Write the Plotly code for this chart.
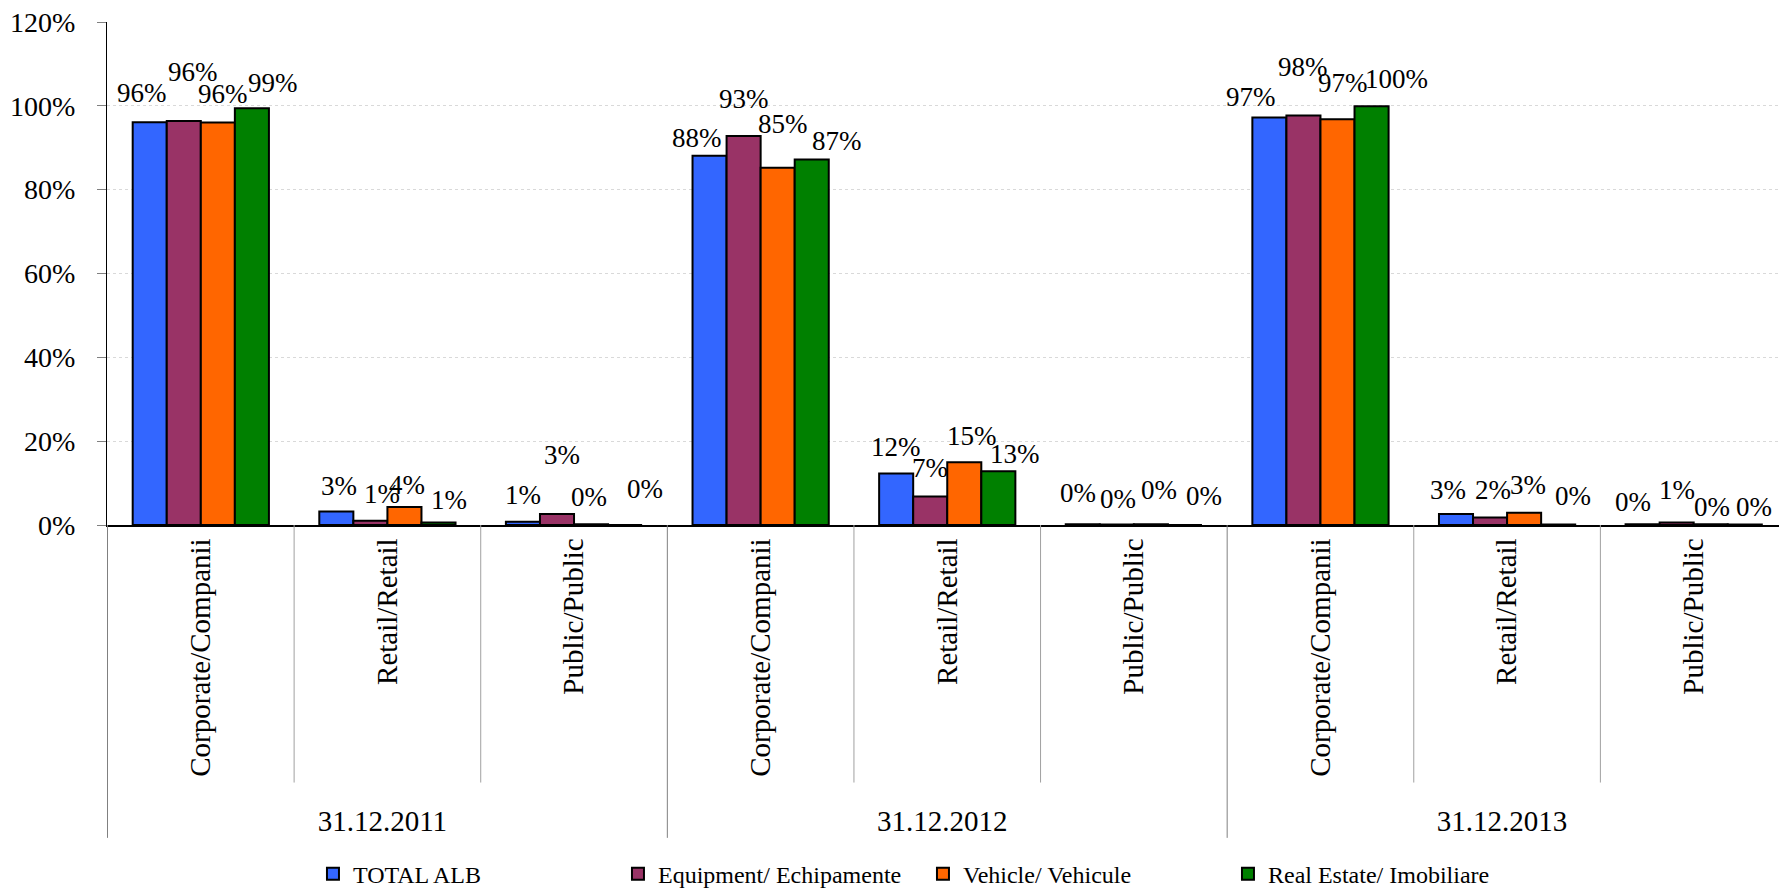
import plotly.graph_objects as go

dates = ["31.12.2011"] * 3 + ["31.12.2012"] * 3 + ["31.12.2013"] * 3
segments = ["Corporate/Companii", "Retail/Retail", "Public/Public"] * 3

series_names = ["TOTAL ALB", "Equipment/ Echipamente", "Vehicle/ Vehicule", "Real Estate/ Imobiliare"]
total_alb = [0.961, 0.032, 0.008, 0.881, 0.123, 0.002, 0.972, 0.026, 0.002]
equipment = [0.964, 0.010, 0.026, 0.928, 0.068, 0.001, 0.977, 0.018, 0.006]
vehicle = [0.960, 0.043, 0.002, 0.852, 0.150, 0.002, 0.968, 0.029, 0.002]
real_estate = [0.994, 0.006, 0.000, 0.872, 0.128, 0.000, 0.999, 0.001, 0.001]
colors = ["#3366FF", "#993366", "#FF6600", "#008000"]

# styling: pixel lift of each data label centre above its bar top (mimics the reference's label stagger)
label_lift = [
    [29, 26, 27, 18, 26, 31, 21, 24, 22],
    [49, 27, 59, 37, 29, 26, 48, 27, 32],
    [29, 22, 27, 44, 26, 34, 36, 28, 17],
    [25, 22, 36, 18, 17, 29, 27, 29, 18],
]
# styling: horizontal nudge (px) of each data label
label_nudge = [
    [-8, 3, 0, -13, 0, -5, -18, -8, -10],
    [9, 12, 5, 0, 0, 1, 0, 3, 0],
    [5, 3, -2, 5, 8, 8, 5, 4, 1],
    [21, 10, 20, 25, 17, 19, 25, 15, 9],
]

font_family = "Liberation Serif, Times New Roman, serif"
bargap = 0.27
n_series = 4

fig = go.Figure()
all_series = [total_alb, equipment, vehicle, real_estate]
for name, vals, col in zip(series_names, all_series, colors):
    fig.add_trace(go.Bar(
        x=[dates, segments], y=vals, name=name,
        marker=dict(color=col, line=dict(color="black", width=2)),
    ))

bar_w = (1 - bargap) / n_series
annotations = []
for j, vals in enumerate(all_series):
    for i, v in enumerate(vals):
        annotations.append(dict(
            x=i + (j - (n_series - 1) / 2) * bar_w, y=v, xref="x", yref="y",
            text=f"{round(v * 100)}%", showarrow=False,
            yshift=label_lift[j][i], xshift=label_nudge[j][i],
            yanchor="middle", xanchor="center",
            font=dict(family=font_family, size=27, color="black"),
        ))

n_cat = len(segments)
shapes = []
group_bounds = [-0.5] + [i - 0.5 for i in range(1, n_cat) if dates[i] != dates[i - 1]]
inner_bounds = [i - 0.5 for i in range(1, n_cat) if dates[i] == dates[i - 1]]
for xb in group_bounds:
    shapes.append(dict(type="line", xref="x", yref="paper", x0=xb, x1=xb, y0=0, y1=-0.622,
                       line=dict(color="#808080", width=1)))
for xb in inner_bounds:
    shapes.append(dict(type="line", xref="x", yref="paper", x0=xb, x1=xb, y0=0, y1=-0.512,
                       line=dict(color="#a0a0a0", width=1)))

fig.update_layout(
    width=1787, height=896,
    paper_bgcolor="white", plot_bgcolor="white",
    barmode="group", bargap=bargap, bargroupgap=0,
    margin=dict(l=99, r=8, t=14, b=376),
    font=dict(family=font_family, size=22, color="black"),
    annotations=annotations,
    shapes=shapes,
    legend=dict(orientation="h", x=0.1226, xanchor="left", y=-0.694, yanchor="middle",
                font=dict(family=font_family, size=24, color="black"), itemwidth=30,
                entrywidth=260, entrywidthmode="pixels",
                traceorder="normal"),
    showlegend=True,
)
fig.update_yaxes(range=[0, 1.2], dtick=0.2, tickformat=".0%",
                 showgrid=True, gridcolor="#d9d9d9", griddash="dot",
                 showline=True, linecolor="black", linewidth=1,
                 ticks="outside", ticklen=9, tickcolor="#808080",
                 ticklabelstandoff=16, ticklabeloverflow="allow",
                 zeroline=False, tickfont=dict(family=font_family, size=28, color="black"),
                 automargin=False)
fig.update_xaxes(showline=True, linecolor="black", linewidth=1.5,
                 tickangle=-90, showdividers=False,
                 ticks="", tickfont=dict(family=font_family, size=29, color="black"),
                 automargin=False)

fig.write_html("out.html")
